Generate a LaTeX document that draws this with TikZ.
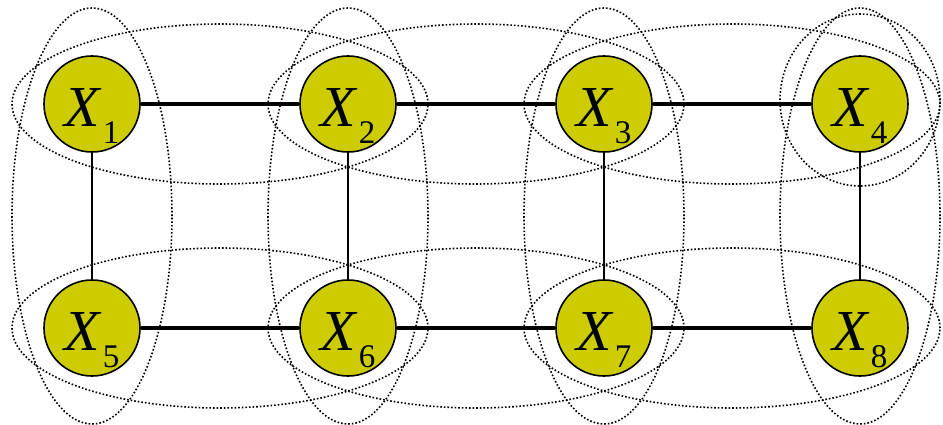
\documentclass[tikz,border=0pt]{standalone}
\usepackage{fontspec}
\setmainfont{Liberation Serif}
\usepackage{tikz}
\usetikzlibrary{calc, positioning}
\definecolor{Olive}{HTML}{CCCC00}

\newcommand{\xvar}[1]{\raisebox{-4pt}[\height][\depth]{%
  {\fontsize{58}{58}\selectfont\itshape X}\kern3pt%
  \smash{\raisebox{-17pt}{\fontsize{33}{33}\selectfont #1}}}}

\tikzset{
  var/.style={circle, draw=black, line width=1.6pt, fill=Olive,
              minimum size=96pt, inner sep=0pt},
  hedge/.style={line width=3.2pt},
  vedge/.style={line width=1.8pt},
  clique/.style={line width=1.6pt, dash pattern=on 1.6pt off 2pt}
}

\begin{document}
\begin{tikzpicture}[x=1pt, y=-1pt]
  \useasboundingbox (0,0) rectangle (943,425);
  \clip (0,0) rectangle (943,425);
  % Variables
  \node[var] (x1) at (92,104)  {\xvar{1}};
  \node[var] (x2) at (348,104) {\xvar{2}};
  \node[var] (x3) at (604,104) {\xvar{3}};
  \node[var] (x4) at (860,104) {\xvar{4}};
  \node[var] (x5) at (92,328)  {\xvar{5}};
  \node[var] (x6) at (348,328) {\xvar{6}};
  \node[var] (x7) at (604,328) {\xvar{7}};
  \node[var] (x8) at (860,328) {\xvar{8}};
  % Edges
  \draw[hedge] (x1) -- (x2);
  \draw[hedge] (x2) -- (x3);
  \draw[hedge] (x3) -- (x4);
  \draw[hedge] (x5) -- (x6);
  \draw[hedge] (x6) -- (x7);
  \draw[hedge] (x7) -- (x8);
  \draw[vedge] (x1) -- (x5);
  \draw[vedge] (x2) -- (x6);
  \draw[vedge] (x3) -- (x7);
  \draw[vedge] (x4) -- (x8);
  % Cliques
  \draw[clique] ($(x1)!.5!(x2)$) ellipse [x radius=208pt, y radius=80pt];
  \draw[clique] ($(x2)!.5!(x3)$) ellipse [x radius=208pt, y radius=80pt];
  \draw[clique] ($(x3)!.5!(x4)$) ellipse [x radius=208pt, y radius=80pt];
  \draw[clique] ($(x5)!.5!(x6)$) ellipse [x radius=208pt, y radius=80pt];
  \draw[clique] ($(x6)!.5!(x7)$) ellipse [x radius=208pt, y radius=80pt];
  \draw[clique] ($(x7)!.5!(x8)$) ellipse [x radius=208pt, y radius=80pt];
  \draw[clique] ($(x1)!.5!(x5)$) ellipse [x radius=80pt, y radius=208pt];
  \draw[clique] ($(x2)!.5!(x6)$) ellipse [x radius=80pt, y radius=208pt];
  \draw[clique] ($(x3)!.5!(x7)$) ellipse [x radius=80pt, y radius=208pt];
  \draw[clique] ($(x4)!.5!(x8)$) ellipse [x radius=80pt, y radius=208pt];
  \draw[clique] ([yshift=4pt]x4.center) ellipse [x radius=80pt, y radius=86pt];
\end{tikzpicture}
\end{document}
